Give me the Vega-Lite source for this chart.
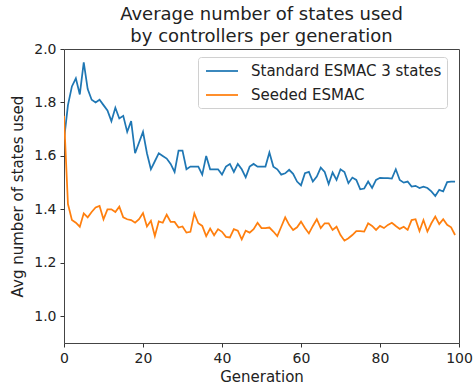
{
  "$schema": "https://vega.github.io/schema/vega-lite/v6.json",
  "width": 395,
  "height": 294,
  "autosize": {"type": "none"},
  "padding": {"left": 64, "top": 49, "right": 15, "bottom": 47},
  "background": "white",
  "config": {
    "font": "DejaVu Sans",
    "view": {"stroke": "#444", "strokeWidth": 1},
    "axis": {"grid": false, "domain": false, "tickColor": "#333", "tickSize": 4, "labelColor": "#222", "titleColor": "#222", "labelFont": "DejaVu Sans", "titleFont": "DejaVu Sans", "titleFontWeight": "normal"}
  },
  "title": {
    "text": ["Average number of states used", " by controllers per generation"],
    "fontSize": 18,
    "fontWeight": "normal",
    "font": "DejaVu Sans",
    "color": "#222",
    "anchor": "middle",
    "lineHeight": 22,
    "offset": -4
  },
  "data": {"values": [
    {"g":0,"s":"Standard ESMAC 3 states","v":1.66},{"g":1,"s":"Standard ESMAC 3 states","v":1.79},{"g":2,"s":"Standard ESMAC 3 states","v":1.86},{"g":3,"s":"Standard ESMAC 3 states","v":1.89},{"g":4,"s":"Standard ESMAC 3 states","v":1.83},{"g":5,"s":"Standard ESMAC 3 states","v":1.95},{"g":6,"s":"Standard ESMAC 3 states","v":1.85},{"g":7,"s":"Standard ESMAC 3 states","v":1.81},{"g":8,"s":"Standard ESMAC 3 states","v":1.80},{"g":9,"s":"Standard ESMAC 3 states","v":1.81},
    {"g":10,"s":"Standard ESMAC 3 states","v":1.79},{"g":11,"s":"Standard ESMAC 3 states","v":1.77},{"g":12,"s":"Standard ESMAC 3 states","v":1.73},{"g":13,"s":"Standard ESMAC 3 states","v":1.78},{"g":14,"s":"Standard ESMAC 3 states","v":1.74},{"g":15,"s":"Standard ESMAC 3 states","v":1.75},{"g":16,"s":"Standard ESMAC 3 states","v":1.69},{"g":17,"s":"Standard ESMAC 3 states","v":1.73},{"g":18,"s":"Standard ESMAC 3 states","v":1.61},{"g":19,"s":"Standard ESMAC 3 states","v":1.65},
    {"g":20,"s":"Standard ESMAC 3 states","v":1.69},{"g":21,"s":"Standard ESMAC 3 states","v":1.61},{"g":22,"s":"Standard ESMAC 3 states","v":1.55},{"g":23,"s":"Standard ESMAC 3 states","v":1.58},{"g":24,"s":"Standard ESMAC 3 states","v":1.61},{"g":25,"s":"Standard ESMAC 3 states","v":1.60},{"g":26,"s":"Standard ESMAC 3 states","v":1.59},{"g":27,"s":"Standard ESMAC 3 states","v":1.57},{"g":28,"s":"Standard ESMAC 3 states","v":1.54},{"g":29,"s":"Standard ESMAC 3 states","v":1.62},
    {"g":30,"s":"Standard ESMAC 3 states","v":1.62},{"g":31,"s":"Standard ESMAC 3 states","v":1.55},{"g":32,"s":"Standard ESMAC 3 states","v":1.56},{"g":33,"s":"Standard ESMAC 3 states","v":1.56},{"g":34,"s":"Standard ESMAC 3 states","v":1.56},{"g":35,"s":"Standard ESMAC 3 states","v":1.53},{"g":36,"s":"Standard ESMAC 3 states","v":1.60},{"g":37,"s":"Standard ESMAC 3 states","v":1.55},{"g":38,"s":"Standard ESMAC 3 states","v":1.55},{"g":39,"s":"Standard ESMAC 3 states","v":1.55},
    {"g":40,"s":"Standard ESMAC 3 states","v":1.53},{"g":41,"s":"Standard ESMAC 3 states","v":1.56},{"g":42,"s":"Standard ESMAC 3 states","v":1.57},{"g":43,"s":"Standard ESMAC 3 states","v":1.54},{"g":44,"s":"Standard ESMAC 3 states","v":1.57},{"g":45,"s":"Standard ESMAC 3 states","v":1.55},{"g":46,"s":"Standard ESMAC 3 states","v":1.52},{"g":47,"s":"Standard ESMAC 3 states","v":1.56},{"g":48,"s":"Standard ESMAC 3 states","v":1.57},{"g":49,"s":"Standard ESMAC 3 states","v":1.56},
    {"g":50,"s":"Standard ESMAC 3 states","v":1.56},{"g":51,"s":"Standard ESMAC 3 states","v":1.56},{"g":52,"s":"Standard ESMAC 3 states","v":1.613},{"g":53,"s":"Standard ESMAC 3 states","v":1.56},{"g":54,"s":"Standard ESMAC 3 states","v":1.55},{"g":55,"s":"Standard ESMAC 3 states","v":1.53},{"g":56,"s":"Standard ESMAC 3 states","v":1.535},{"g":57,"s":"Standard ESMAC 3 states","v":1.548},{"g":58,"s":"Standard ESMAC 3 states","v":1.533},{"g":59,"s":"Standard ESMAC 3 states","v":1.504},
    {"g":60,"s":"Standard ESMAC 3 states","v":1.49},{"g":61,"s":"Standard ESMAC 3 states","v":1.535},{"g":62,"s":"Standard ESMAC 3 states","v":1.54},{"g":63,"s":"Standard ESMAC 3 states","v":1.504},{"g":64,"s":"Standard ESMAC 3 states","v":1.523},{"g":65,"s":"Standard ESMAC 3 states","v":1.556},{"g":66,"s":"Standard ESMAC 3 states","v":1.54},{"g":67,"s":"Standard ESMAC 3 states","v":1.495},{"g":68,"s":"Standard ESMAC 3 states","v":1.538},{"g":69,"s":"Standard ESMAC 3 states","v":1.51},
    {"g":70,"s":"Standard ESMAC 3 states","v":1.55},{"g":71,"s":"Standard ESMAC 3 states","v":1.54},{"g":72,"s":"Standard ESMAC 3 states","v":1.498},{"g":73,"s":"Standard ESMAC 3 states","v":1.519},{"g":74,"s":"Standard ESMAC 3 states","v":1.51},{"g":75,"s":"Standard ESMAC 3 states","v":1.475},{"g":76,"s":"Standard ESMAC 3 states","v":1.478},{"g":77,"s":"Standard ESMAC 3 states","v":1.504},{"g":78,"s":"Standard ESMAC 3 states","v":1.48},{"g":79,"s":"Standard ESMAC 3 states","v":1.51},
    {"g":80,"s":"Standard ESMAC 3 states","v":1.518},{"g":81,"s":"Standard ESMAC 3 states","v":1.517},{"g":82,"s":"Standard ESMAC 3 states","v":1.517},{"g":83,"s":"Standard ESMAC 3 states","v":1.515},{"g":84,"s":"Standard ESMAC 3 states","v":1.55},{"g":85,"s":"Standard ESMAC 3 states","v":1.51},{"g":86,"s":"Standard ESMAC 3 states","v":1.5},{"g":87,"s":"Standard ESMAC 3 states","v":1.504},{"g":88,"s":"Standard ESMAC 3 states","v":1.485},{"g":89,"s":"Standard ESMAC 3 states","v":1.488},
    {"g":90,"s":"Standard ESMAC 3 states","v":1.48},{"g":91,"s":"Standard ESMAC 3 states","v":1.485},{"g":92,"s":"Standard ESMAC 3 states","v":1.48},{"g":93,"s":"Standard ESMAC 3 states","v":1.467},{"g":94,"s":"Standard ESMAC 3 states","v":1.45},{"g":95,"s":"Standard ESMAC 3 states","v":1.473},{"g":96,"s":"Standard ESMAC 3 states","v":1.467},{"g":97,"s":"Standard ESMAC 3 states","v":1.502},{"g":98,"s":"Standard ESMAC 3 states","v":1.504},{"g":99,"s":"Standard ESMAC 3 states","v":1.504},
    {"g":0,"s":"Seeded ESMAC","v":1.75},{"g":1,"s":"Seeded ESMAC","v":1.42},{"g":2,"s":"Seeded ESMAC","v":1.36},{"g":3,"s":"Seeded ESMAC","v":1.35},{"g":4,"s":"Seeded ESMAC","v":1.335},{"g":5,"s":"Seeded ESMAC","v":1.385},{"g":6,"s":"Seeded ESMAC","v":1.37},{"g":7,"s":"Seeded ESMAC","v":1.39},{"g":8,"s":"Seeded ESMAC","v":1.407},{"g":9,"s":"Seeded ESMAC","v":1.413},
    {"g":10,"s":"Seeded ESMAC","v":1.363},{"g":11,"s":"Seeded ESMAC","v":1.40},{"g":12,"s":"Seeded ESMAC","v":1.40},{"g":13,"s":"Seeded ESMAC","v":1.39},{"g":14,"s":"Seeded ESMAC","v":1.41},{"g":15,"s":"Seeded ESMAC","v":1.37},{"g":16,"s":"Seeded ESMAC","v":1.363},{"g":17,"s":"Seeded ESMAC","v":1.36},{"g":18,"s":"Seeded ESMAC","v":1.35},{"g":19,"s":"Seeded ESMAC","v":1.363},
    {"g":20,"s":"Seeded ESMAC","v":1.386},{"g":21,"s":"Seeded ESMAC","v":1.336},{"g":22,"s":"Seeded ESMAC","v":1.357},{"g":23,"s":"Seeded ESMAC","v":1.30},{"g":24,"s":"Seeded ESMAC","v":1.355},{"g":25,"s":"Seeded ESMAC","v":1.35},{"g":26,"s":"Seeded ESMAC","v":1.38},{"g":27,"s":"Seeded ESMAC","v":1.353},{"g":28,"s":"Seeded ESMAC","v":1.353},{"g":29,"s":"Seeded ESMAC","v":1.332},
    {"g":30,"s":"Seeded ESMAC","v":1.336},{"g":31,"s":"Seeded ESMAC","v":1.313},{"g":32,"s":"Seeded ESMAC","v":1.316},{"g":33,"s":"Seeded ESMAC","v":1.385},{"g":34,"s":"Seeded ESMAC","v":1.348},{"g":35,"s":"Seeded ESMAC","v":1.338},{"g":36,"s":"Seeded ESMAC","v":1.30},{"g":37,"s":"Seeded ESMAC","v":1.328},{"g":38,"s":"Seeded ESMAC","v":1.303},{"g":39,"s":"Seeded ESMAC","v":1.326},
    {"g":40,"s":"Seeded ESMAC","v":1.316},{"g":41,"s":"Seeded ESMAC","v":1.297},{"g":42,"s":"Seeded ESMAC","v":1.295},{"g":43,"s":"Seeded ESMAC","v":1.326},{"g":44,"s":"Seeded ESMAC","v":1.32},{"g":45,"s":"Seeded ESMAC","v":1.288},{"g":46,"s":"Seeded ESMAC","v":1.32},{"g":47,"s":"Seeded ESMAC","v":1.313},{"g":48,"s":"Seeded ESMAC","v":1.326},{"g":49,"s":"Seeded ESMAC","v":1.35},
    {"g":50,"s":"Seeded ESMAC","v":1.33},{"g":51,"s":"Seeded ESMAC","v":1.33},{"g":52,"s":"Seeded ESMAC","v":1.332},{"g":53,"s":"Seeded ESMAC","v":1.317},{"g":54,"s":"Seeded ESMAC","v":1.30},{"g":55,"s":"Seeded ESMAC","v":1.335},{"g":56,"s":"Seeded ESMAC","v":1.37},{"g":57,"s":"Seeded ESMAC","v":1.342},{"g":58,"s":"Seeded ESMAC","v":1.323},{"g":59,"s":"Seeded ESMAC","v":1.333},
    {"g":60,"s":"Seeded ESMAC","v":1.354},{"g":61,"s":"Seeded ESMAC","v":1.33},{"g":62,"s":"Seeded ESMAC","v":1.31},{"g":63,"s":"Seeded ESMAC","v":1.338},{"g":64,"s":"Seeded ESMAC","v":1.363},{"g":65,"s":"Seeded ESMAC","v":1.33},{"g":66,"s":"Seeded ESMAC","v":1.348},{"g":67,"s":"Seeded ESMAC","v":1.348},{"g":68,"s":"Seeded ESMAC","v":1.323},{"g":69,"s":"Seeded ESMAC","v":1.335},
    {"g":70,"s":"Seeded ESMAC","v":1.304},{"g":71,"s":"Seeded ESMAC","v":1.283},{"g":72,"s":"Seeded ESMAC","v":1.292},{"g":73,"s":"Seeded ESMAC","v":1.304},{"g":74,"s":"Seeded ESMAC","v":1.319},{"g":75,"s":"Seeded ESMAC","v":1.319},{"g":76,"s":"Seeded ESMAC","v":1.317},{"g":77,"s":"Seeded ESMAC","v":1.348},{"g":78,"s":"Seeded ESMAC","v":1.338},{"g":79,"s":"Seeded ESMAC","v":1.323},
    {"g":80,"s":"Seeded ESMAC","v":1.338},{"g":81,"s":"Seeded ESMAC","v":1.33},{"g":82,"s":"Seeded ESMAC","v":1.342},{"g":83,"s":"Seeded ESMAC","v":1.35},{"g":84,"s":"Seeded ESMAC","v":1.338},{"g":85,"s":"Seeded ESMAC","v":1.327},{"g":86,"s":"Seeded ESMAC","v":1.335},{"g":87,"s":"Seeded ESMAC","v":1.323},{"g":88,"s":"Seeded ESMAC","v":1.36},{"g":89,"s":"Seeded ESMAC","v":1.363},
    {"g":90,"s":"Seeded ESMAC","v":1.319},{"g":91,"s":"Seeded ESMAC","v":1.36},{"g":92,"s":"Seeded ESMAC","v":1.317},{"g":93,"s":"Seeded ESMAC","v":1.348},{"g":94,"s":"Seeded ESMAC","v":1.373},{"g":95,"s":"Seeded ESMAC","v":1.345},{"g":96,"s":"Seeded ESMAC","v":1.363},{"g":97,"s":"Seeded ESMAC","v":1.342},{"g":98,"s":"Seeded ESMAC","v":1.333},{"g":99,"s":"Seeded ESMAC","v":1.304}
  ]},
  "mark": {"type": "line", "strokeWidth": 1.75, "clip": true},
  "encoding": {
    "x": {
      "field": "g", "type": "quantitative",
      "scale": {"domain": [0, 100], "nice": false, "zero": false},
      "axis": {"title": "Generation", "values": [0, 20, 40, 60, 80, 100], "format": "d", "labelFontSize": 14, "titleFontSize": 15, "labelPadding": 4, "titlePadding": 4, "labelFlush": false}
    },
    "y": {
      "field": "v", "type": "quantitative",
      "scale": {"domain": [0.9, 2.0], "nice": false, "zero": false},
      "axis": {"title": "Avg number of states used", "values": [1.0, 1.2, 1.4, 1.6, 1.8, 2.0], "format": ".1f", "labelFontSize": 14, "titleFontSize": 15, "labelPadding": 4, "titlePadding": 8, "labelFlush": false}
    },
    "color": {
      "field": "s", "type": "nominal",
      "scale": {"domain": ["Standard ESMAC 3 states", "Seeded ESMAC"], "range": ["#1f77b4", "#ff7f0e"]},
      "legend": {
        "title": null,
        "orient": "none",
        "legendX": 134,
        "legendY": 8,
        "symbolType": "M-0.75,0H3.25",
        "symbolSize": 256,
        "symbolStrokeWidth": 1.75,
        "labelFontSize": 15,
        "labelColor": "#222",
        "labelLimit": 300,
        "labelOffset": 30,
        "padding": 5,
        "rowPadding": 7,
        "strokeColor": "#d0d0d0",
        "fillColor": "white",
        "cornerRadius": 3
      }
    }
  }
}
